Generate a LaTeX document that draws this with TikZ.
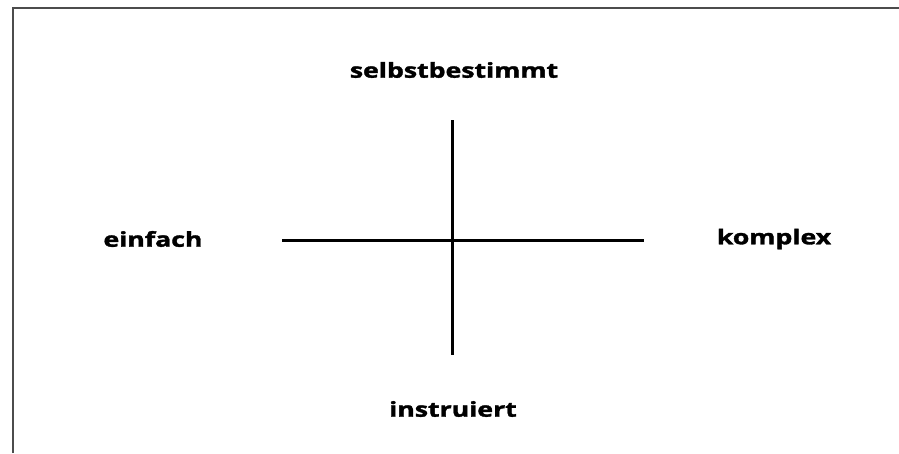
\documentclass[tikz,border=0pt]{standalone}
\usepackage{fontspec}
\newfontfamily\lblfont[FakeBold=1.5]{Open Sans Bold}
\begin{document}
\begin{tikzpicture}[x=1pt,y=-1pt,
  lbl/.style={font=\lblfont\fontsize{20.5}{24}\selectfont, inner sep=0pt, xscale=1.3},
  axis/.style={line width=3pt, black},
  frame/.style={line width=2pt, black!70}]
\useasboundingbox (0,0) rectangle (899,453);
\draw[frame] (13,453) -- (13,8) -- (899,8);
\coordinate (t) at (452,120);
\coordinate (b) at (452,355);
\coordinate (l) at (282,240);
\coordinate (r) at (644,240);
\draw[axis] (t) -- (b);
\draw[axis] (l) -- (r);
\node[lbl] (s) at (454,70) {selbstbestimmt};
\node[lbl] (e) at (153,239) {einfach};
\node[lbl] (k) at (774,239) {komplex};
\node[lbl] (i) at (453,409) {instruiert};
\end{tikzpicture}
\end{document}
